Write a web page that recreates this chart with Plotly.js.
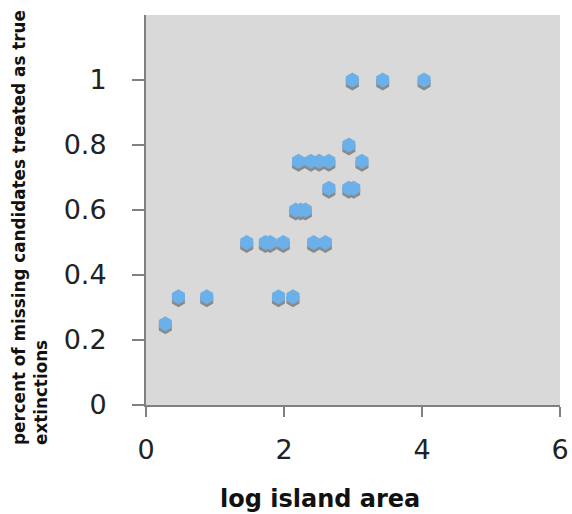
<!DOCTYPE html>
<html>
<head>
<meta charset="utf-8">
<script src="https://cdn.plot.ly/plotly-3.0.1.min.js"></script>
<style>html,body{margin:0;padding:0;background:#fff;}#chart{width:572px;height:514px;}</style>
</head>
<body>
<div id="chart"></div>
<script>
// log island area
const logArea = [0.28, 0.47, 0.88, 1.46, 1.73, 1.80, 1.99, 1.92, 2.13,
                 2.17, 2.24, 2.31, 2.21, 2.39, 2.51, 2.65, 2.94, 3.13,
                 2.65, 2.94, 3.01, 2.43, 2.60, 2.99, 3.43, 4.03];
// fraction of missing candidates treated as true extinctions
const fracExtinct = [0.25, 0.333, 0.333, 0.5, 0.5, 0.5, 0.5, 0.333, 0.333,
                     0.6, 0.6, 0.6, 0.75, 0.75, 0.75, 0.75, 0.8, 0.75,
                     0.667, 0.667, 0.667, 0.5, 0.5, 1.0, 1.0, 1.0];
const xTicks = [0, 2, 4, 6];
const yTicks = [0, 0.2, 0.4, 0.6, 0.8, 1];
const yTickText = ['0', '0.2', '0.4', '0.6', '0.8', '1'];
const xTitle = 'log island area';
const yTitle = 'percent of missing candidates treated as true<br>extinctions';

const shadowDy = 0.009;
const shadow = {
  x: logArea, y: fracExtinct.map(v => v - shadowDy),
  mode: 'markers', type: 'scatter', hoverinfo: 'skip',
  marker: {symbol: 'hexagon', size: 15, color: '#8a8a8a', line: {width: 0}}
};
const pts = {
  x: logArea, y: fracExtinct, mode: 'markers', type: 'scatter',
  marker: {symbol: 'hexagon', size: 15, color: '#6cb0ea', line: {width: 0}}
};

const layout = {
  width: 572, height: 514,
  margin: {l: 146, r: 12, t: 15, b: 109},
  paper_bgcolor: '#ffffff', plot_bgcolor: '#d9d9d9',
  showlegend: false,
  font: {family: 'DejaVu Sans, Verdana, sans-serif', color: '#222'},
  xaxis: {
    range: [0, 6], tickvals: xTicks, ticktext: xTicks.map(String),
    showgrid: false, zeroline: false, showline: true, linecolor: '#808080', linewidth: 2,
    ticks: 'outside', ticklen: 10, tickcolor: '#808080', tickwidth: 1.5,
    ticklabelstandoff: 10,
    tickfont: {size: 27, color: '#222'}
  },
  yaxis: {
    range: [0, 1.2], tickvals: yTicks, ticktext: yTickText,
    showgrid: false, zeroline: false, showline: true, linecolor: '#808080', linewidth: 2,
    ticks: 'outside', ticklen: 12, tickcolor: '#808080', tickwidth: 1.5,
    ticklabelstandoff: 20,
    tickfont: {size: 27, color: '#222'}
  },
  annotations: [
    {text: '<b>' + xTitle + '</b>', xref: 'paper', yref: 'paper',
     x: (320 - 146) / 414, y: -(499 - 405) / 390, xanchor: 'center', yanchor: 'middle',
     showarrow: false, font: {size: 24, color: '#111', family: 'DejaVu Sans, Verdana, sans-serif'}},
    {text: '<b>' + yTitle + '</b>', xref: 'paper', yref: 'paper',
     x: (30 - 146) / 414, y: (405 - 228) / 390, xanchor: 'center', yanchor: 'middle',
     textangle: -90, align: 'left', showarrow: false,
     font: {size: 16.8, color: '#111', family: 'DejaVu Sans, Verdana, sans-serif'}}
  ]
};
Plotly.newPlot('chart', [shadow, pts], layout, {displayModeBar: false, staticPlot: true});
</script>
</body>
</html>
